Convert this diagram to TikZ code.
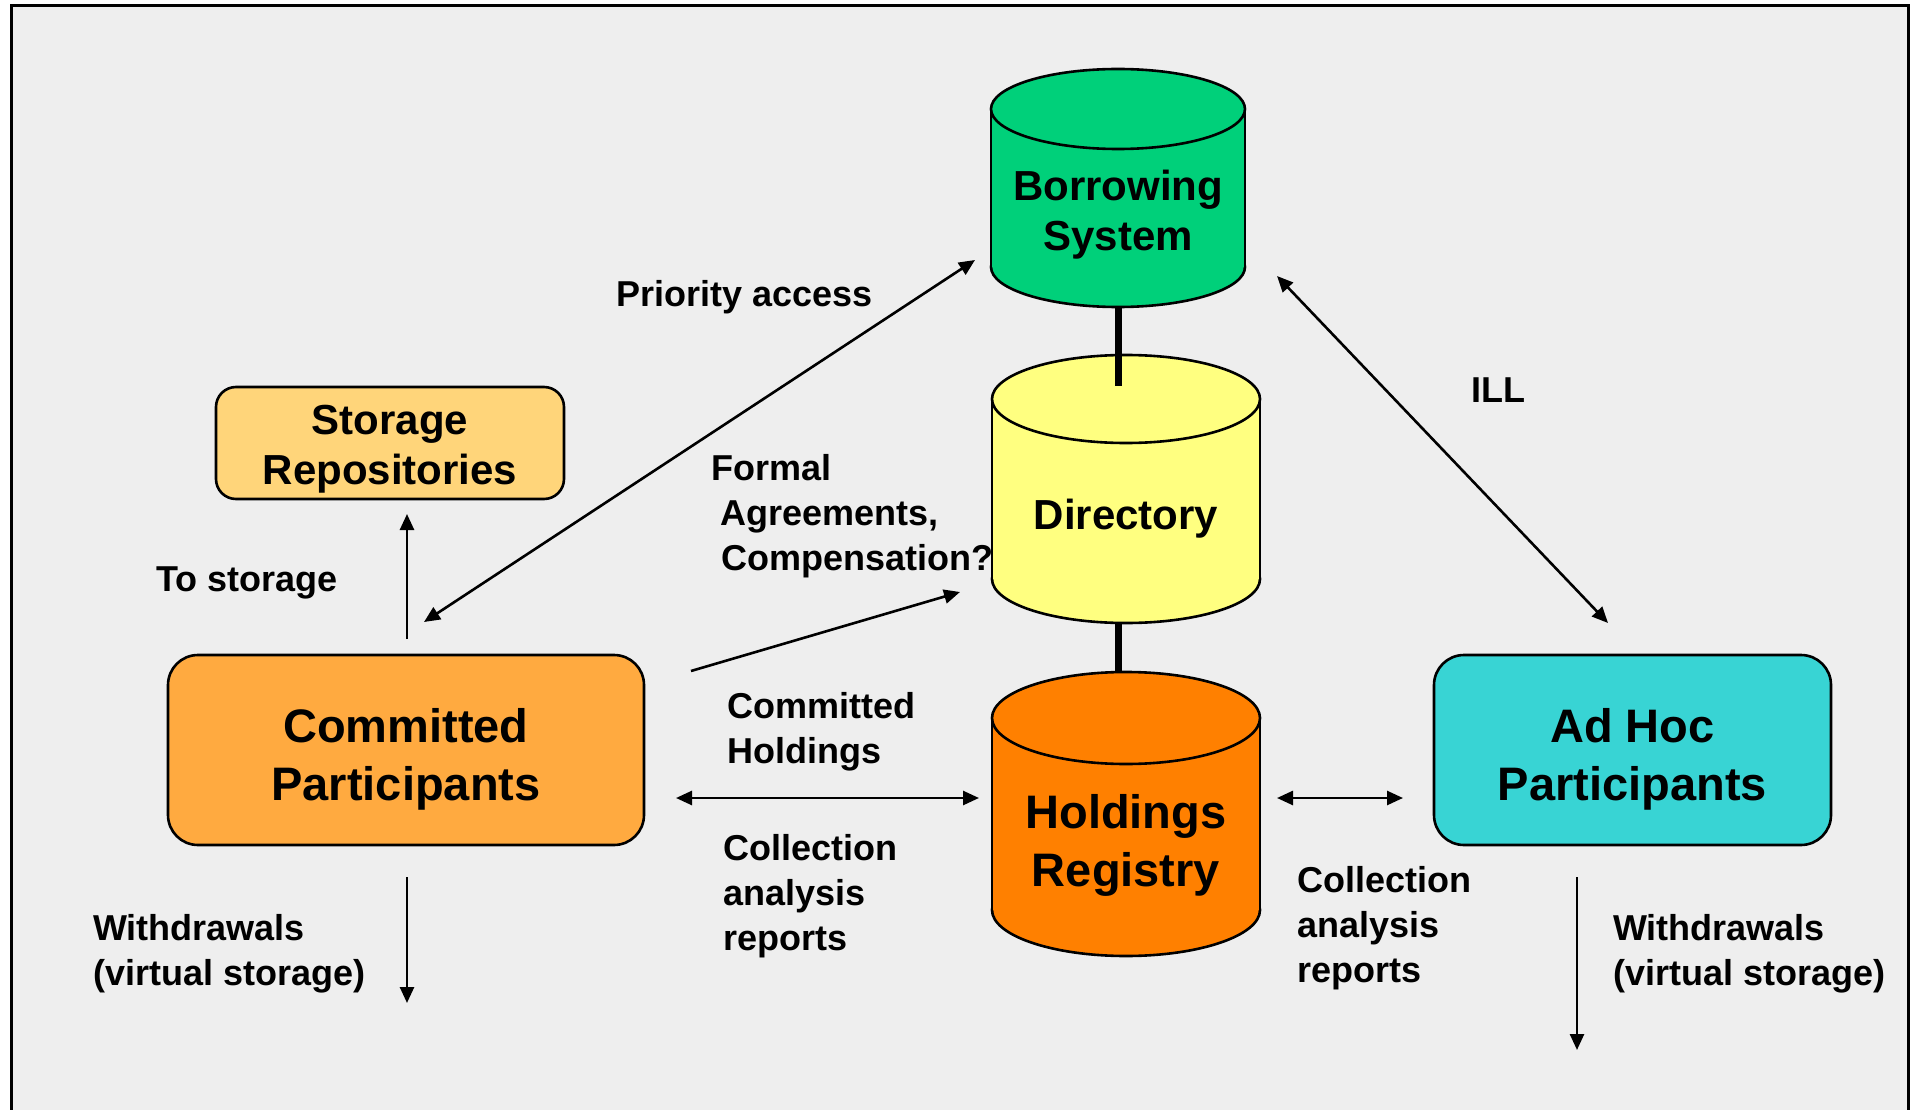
\documentclass[tikz,border=0pt]{standalone}
\usepackage{fontspec}
\setmainfont{Liberation Sans}
\usetikzlibrary{arrows.meta}
\definecolor{bgc}{RGB}{238,238,238}
\definecolor{borc}{RGB}{0,208,122}
\definecolor{dirc}{RGB}{255,255,128}
\definecolor{holc}{RGB}{255,128,0}
\definecolor{stoc}{RGB}{255,213,122}
\definecolor{comc}{RGB}{255,170,64}
\definecolor{adhc}{RGB}{56,212,212}
\newcommand{\drawcyl}[6]{% #1 colour, #2 cx, #3 rx, #4 y top, #5 y bottom, #6 ry
  \filldraw[fill=#1, line width=2.6pt] (#2,#5) ellipse [x radius=#3, y radius=#6];
  \fill[#1] ({#2-#3},#4) rectangle ({#2+#3},#5);
  \draw[line width=2.6pt] ({#2-#3},#4) -- ({#2-#3},#5) ({#2+#3},#4) -- ({#2+#3},#5);
  \filldraw[fill=#1, line width=2.6pt] (#2,#4) ellipse [x radius=#3, y radius=#6];
}
\begin{document}
\begin{tikzpicture}[x=1pt,y=-1pt,
  lbl/.style={inner sep=0pt, anchor=base west, align=left, font=\bfseries\fontsize{36}{45}\selectfont},
  tip/.tip={Triangle[length=16pt,width=14pt]},
  arr/.style={line width=2.6pt, -tip},
  darr/.style={line width=2.6pt, tip-tip},
  rbox/.style={draw, line width=2.6pt, rounded corners=30pt, inner sep=0pt, align=center, font=\bfseries\fontsize{47}{58}\selectfont},
  cyltext/.style={inner sep=0pt, align=center},
  link/.style={line width=7pt}
]
\useasboundingbox (0,0) rectangle (1915,1110);
% frame
\fill[white] (0,0) rectangle (1915,1110);
\fill[bgc] (11,6) rectangle (1908,1110);
\draw[line width=3pt] (11,1112) -- (11,6) -- (1908,6) -- (1908,1112);

% cylinders
\drawcyl{borc}{1118}{127}{109}{267}{40}
\drawcyl{dirc}{1126}{134}{399}{579}{44}
\drawcyl{holc}{1126}{134}{718}{910}{46}
\node[cyltext, font=\bfseries\fontsize{42}{50}\selectfont] (bor) at (1118,215) {Borrowing\\System};
\node[cyltext, font=\bfseries\fontsize{42}{50}\selectfont] (dir) at (1126,519) {Directory};
\node[cyltext, font=\bfseries\fontsize{47}{58}\selectfont] (hold) at (1126,845) {Holdings\\Registry};

\coordinate (borB) at (1118,307);
\coordinate (dirT) at (1118,386);
\coordinate (dirB) at (1118,623);
\coordinate (holT) at (1118,672);
\draw[link] (borB) -- (dirT);
\draw[link] (dirB) -- (holT);

% boxes
\node[rbox, fill=stoc, rounded corners=20pt, minimum width=348pt, minimum height=112pt,
      font=\bfseries\fontsize{42}{50}\selectfont] (stor) at (390,443) {\rule{0pt}{41pt}Storage\\Repositories};
\node[rbox, fill=comc, minimum width=476pt, minimum height=190pt] (comm) at (406,750) {\rule{0pt}{53pt}Committed\\Participants};
\node[rbox, fill=adhc, minimum width=397pt, minimum height=190pt] (adhoc) at (1632.5,750) {\rule{0pt}{53pt}Ad Hoc\\Participants};

% connector end points
\coordinate (ts1) at (407,639);  \coordinate (ts2) at (407,514);
\coordinate (pa1) at (424,622);  \coordinate (pa2) at (975,260);
\coordinate (fa1) at (691,671);  \coordinate (fa2) at (960,592);
\coordinate (il1) at (1277,276); \coordinate (il2) at (1608,623);
\coordinate (ch1) at (676,798);  \coordinate (ch2) at (979,798);
\coordinate (ca1) at (1277,798); \coordinate (ca2) at (1403,798);
\coordinate (wl1) at (407,877);  \coordinate (wl2) at (407,1003);
\coordinate (wr1) at (1577,877); \coordinate (wr2) at (1577,1050);

\draw[arr] (ts1) -- (ts2);
\draw[darr] (pa1) -- (pa2);
\draw[arr] (fa1) -- (fa2);
\draw[darr] (il1) -- (il2);
\draw[darr] (ch1) -- (ch2);
\draw[darr] (ca1) -- (ca2);
\draw[arr] (wl1) -- (wl2);
\draw[arr] (wr1) -- (wr2);

% labels (base anchor = baseline of the last line)
\node[lbl] (lpa) at (616,306) {Priority access};
\node[lbl] (lts) at (156,591) {To storage};
\node[lbl] (lfa) at (711,570) {Formal\\\hspace*{9pt}Agreements,\\\hspace*{10pt}Compensation?};
\node[lbl] (lil) at (1471,402) {ILL};
\node[lbl] (lch) at (727,763) {Committed\\Holdings};
\node[lbl] (lca) at (723,950) {Collection\\analysis\\reports};
\node[lbl] (lcr) at (1297,982) {Collection\\analysis\\reports};
\node[lbl] (lwl) at (93,985) {Withdrawals\\(virtual storage)};
\node[lbl] (lwr) at (1613,985) {Withdrawals\\(virtual storage)};
\end{tikzpicture}
\end{document}
